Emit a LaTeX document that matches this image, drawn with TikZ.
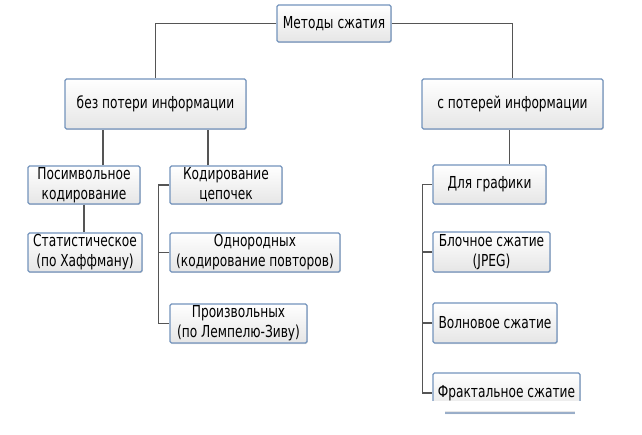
\documentclass[tikz,border=0pt]{standalone}
\usepackage{fontspec}
\setmainfont{DejaVu Sans}[FakeStretch=0.74]
\usetikzlibrary{shadows}
\definecolor{boxline}{HTML}{7393BC}
\definecolor{conn}{HTML}{555555}
\tikzset{
  box/.style={draw=boxline, line width=1.1pt, rounded corners=1.5pt,
    top color=white, bottom color=black!10, align=center, inner sep=0pt,
    font=\fontsize{16.5}{20}\selectfont,
    drop shadow={opacity=0.25, shadow xshift=0.8pt, shadow yshift=-1pt}},
  conline/.style={draw=conn, line width=1.2pt}
}
\begin{document}
\begin{tikzpicture}[x=1pt,y=-1pt]
\useasboundingbox (0,0) rectangle (642,435);
\node[box, minimum width=114pt, minimum height=37pt] (top) at (334,23.5) {Методы сжатия};
\node[box, minimum width=181pt, minimum height=50pt] (L1) at (155.5,104) {без потери информации};
\node[box, minimum width=181pt, minimum height=50pt] (R1) at (512.5,104) {с потерей информации};
\node[box, minimum width=112pt, minimum height=38pt] (P) at (84,185) {Посимвольное\\кодирование};
\node[box, minimum width=112pt, minimum height=38pt] (K) at (226,185) {Кодирование\\цепочек};
\node[box, minimum width=114pt, minimum height=39pt] (S) at (85,252.5) {Статистическое\\(по Хаффману)};
\node[box, minimum width=170pt, minimum height=39pt] (O) at (255,252.5) {Однородных\\(кодирование повторов)};
\node[box, minimum width=137pt, minimum height=39pt] (Pr) at (238.5,323.5) {Произвольных\\(по Лемпелю-Зиву)};
\node[box, minimum width=113pt, minimum height=39pt] (D) at (489.5,184.5) {Для графики};
\node[box, minimum width=117pt, minimum height=40pt] (B) at (491.5,252) {Блочное сжатие\\(JPEG)};
\node[box, minimum width=124pt, minimum height=40pt] (V) at (495,323) {Волновое сжатие};
\node[box, minimum width=147pt, minimum height=40pt] (F) at (506.5,393) {Фрактальное сжатие};
% white strip cutting the last box
\fill[white] (427,401) rectangle (592,411.3);
\fill[white] (427,411) rectangle (445,418);
\fill[white] (575,411) rectangle (592,418);
% connectors
\draw[conline] (top.west) -| (L1.north);
\draw[conline] (top.east) -| (R1.north);
\draw[conline] ([xshift=19pt]P.north) -- ([xshift=19pt]P.north |- L1.south);
\draw[conline] ([xshift=-18pt]K.north) -- ([xshift=-18pt]K.north |- L1.south);
\draw[conline] (P.south) -- (S.north -| P.south);
\draw[conline] (K.west) -- ++(-11,0) |- (Pr.west);
\draw[conline] (O.west) -- ++(-11,0);
\draw[conline] ([xshift=20pt]D.north) -- ([xshift=20pt]D.north |- R1.south);
\draw[conline] (D.west) -- ++(-10,0) |- (F.west);
\draw[conline] (B.west) -- ++(-10,0);
\draw[conline] (V.west) -- ++(-10,0);
\end{tikzpicture}
\end{document}
